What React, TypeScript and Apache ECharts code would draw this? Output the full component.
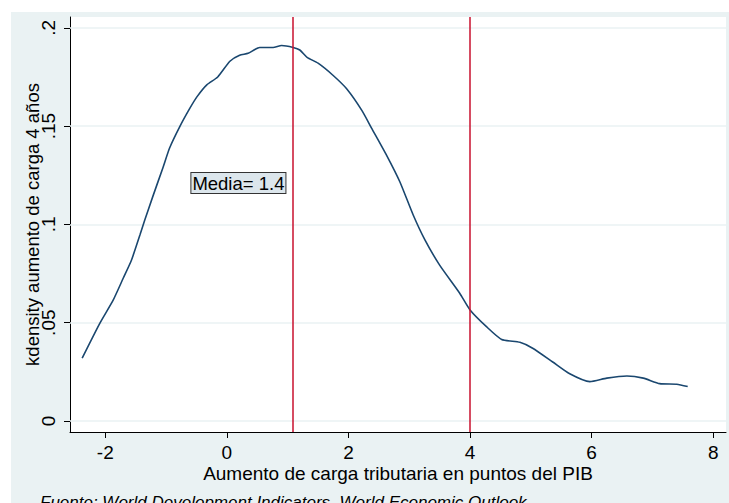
import { useEffect, useRef } from "react";
import * as echarts from "echarts";

const densityX = [-2.38, -2.09, -1.87, -1.705, -1.568, -1.43, -1.35, -1.22, -1.05, -0.94, -0.77, -0.61, -0.49, -0.33, -0.15, 0.05, 0.21, 0.35, 0.54, 0.76, 0.9, 1.09, 1.2, 1.32, 1.5, 1.74, 1.97, 2.22, 2.38, 2.63, 2.845, 3.065, 3.26, 3.5, 3.83, 4.0, 4.27, 4.52, 4.82, 5.03, 5.36, 5.64, 5.97, 6.25, 6.58, 6.85, 7.12, 7.4, 7.58];
const densityY = [0.032, 0.0497, 0.0615, 0.0726, 0.0819, 0.0946, 0.1022, 0.114, 0.129, 0.139, 0.15, 0.159, 0.165, 0.171, 0.175, 0.183, 0.186, 0.187, 0.19, 0.19, 0.191, 0.19, 0.1887, 0.185, 0.182, 0.176, 0.169, 0.158, 0.149, 0.135, 0.1217, 0.1048, 0.092, 0.0793, 0.065, 0.0565, 0.048, 0.0415, 0.04, 0.037, 0.03, 0.024, 0.02, 0.0218, 0.0229, 0.0218, 0.019, 0.0187, 0.0175];
const xTicks = [-2, 0, 2, 4, 6, 8];
const yTicks = [0, 0.05, 0.1, 0.15, 0.2];
const yTickLabels = ["0", ".05", ".1", ".15", ".2"];
const refLines = [1.09, 4.0];
const meanLabel = "Media= 1.4";
const meanLabelPos = [0.19, 0.121];
const xTitle = "Aumento de carga tributaria en puntos del PIB";
const yTitle = "kdensity aumento de carga 4 años";
const note = "Fuente: World Development Indicators, World Economic Outlook";

const FONT = "Liberation Sans, Arial, sans-serif";

export default function App() {
  const ref = useRef<HTMLDivElement>(null);
  useEffect(() => {
    if (!ref.current) return;
    const chart = echarts.init(ref.current, null, { renderer: "svg" });
    const data = densityX.map((x, i) => [x, densityY[i]]);
    chart.setOption({
      animation: false,
      textStyle: { fontFamily: FONT },
      graphic: [
        {
          type: "rect",
          z: -10,
          silent: true,
          shape: { x: 11, y: 12, width: 718, height: 491 },
          style: { fill: "#eaf2f3" },
        },
        {
          type: "text",
          left: 40,
          top: 494,
          style: {
            text: note,
            font: "italic 17px " + FONT,
            fill: "#000",
          },
        },
      ],
      grid: {
        left: 70,
        right: 3,
        top: 17,
        bottom: 71,
        show: true,
        backgroundColor: "#ffffff",
        borderWidth: 0,
      },
      xAxis: {
        type: "value",
        min: -2.58,
        max: 8.21,
        name: xTitle,
        nameLocation: "middle",
        nameGap: 32,
        nameMoveOverlap: false,
        nameTextStyle: { fontSize: 19, color: "#000", fontFamily: FONT },
        axisLine: { show: true, onZero: false, lineStyle: { color: "#000", width: 1 } },
        axisTick: { show: true, length: 6, customValues: xTicks, lineStyle: { color: "#000" } },
        axisLabel: {
          customValues: xTicks,
          fontSize: 19,
          color: "#000",
          margin: 11,
          fontFamily: FONT,
        },
        splitLine: { show: false },
      },
      yAxis: {
        type: "value",
        min: -0.0056,
        max: 0.2055,
        name: yTitle,
        nameLocation: "middle",
        nameRotate: 90,
        nameGap: 28,
        nameMoveOverlap: false,
        nameTextStyle: { fontSize: 18.5, color: "#000", fontFamily: FONT },
        axisLine: { show: true, onZero: false, lineStyle: { color: "#000", width: 1 } },
        axisTick: { show: true, length: 6, customValues: yTicks, lineStyle: { color: "#000" } },
        axisLabel: {
          customValues: yTicks,
          rotate: 90,
          fontSize: 19,
          color: "#000",
          margin: 12,
          fontFamily: FONT,
          formatter: (v: number) => {
            const i = yTicks.findIndex((t) => Math.abs(t - v) < 1e-9);
            return i >= 0 ? yTickLabels[i] : "";
          },
        },
        splitLine: { show: false },
      },
      series: [
        {
          type: "line",
          data: [],
          silent: true,
          z: 1,
          markLine: {
            silent: true,
            z: 1,
            symbol: "none",
            label: { show: false },
            lineStyle: { color: "#eaf2f3", width: 1.5, type: "solid" },
            data: yTicks.map((t) => ({ yAxis: t })),
          },
        },
        {
          type: "line",
          data,
          smooth: 0.2,
          showSymbol: false,
          z: 3,
          lineStyle: { color: "#1a476f", width: 1.6 },
          markLine: {
            silent: true,
            z: 4,
            symbol: "none",
            label: { show: false },
            lineStyle: { color: "#c8102e", width: 1.5, type: "solid" },
            data: refLines.map((v) => ({ xAxis: v })),
          },
          markPoint: {
            silent: true,
            z: 6,
            symbol: "rect",
            symbolSize: 0,
            data: [{ coord: meanLabelPos, value: meanLabel }],
            label: {
              show: true,
              position: "inside",
              formatter: meanLabel,
              fontSize: 18.5,
              color: "#000",
              fontFamily: FONT,
              backgroundColor: "#dce6ec",
              borderColor: "#333",
              borderWidth: 1,
              padding: [1, 1, 0, 1],
            },
          },
        },
      ],
    });
    return () => chart.dispose();
  }, []);
  return (
    <div
      ref={ref}
      style={{ position: "fixed", left: 0, top: 0, width: 729, height: 503, background: "#ffffff" }}
    />
  );
}
